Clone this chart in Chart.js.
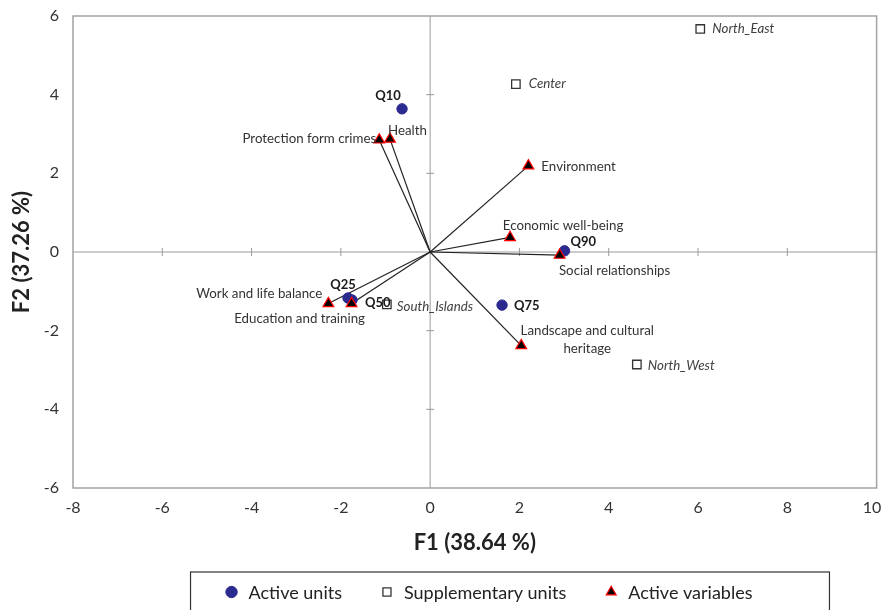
<!DOCTYPE html>
<html>
<head>
<meta charset="utf-8">
<script src="https://cdn.jsdelivr.net/npm/chart.js@4/dist/chart.umd.min.js"></script>
<style>
  html, body { margin: 0; padding: 0; background: #ffffff; }
  #wrap { width: 884px; height: 610px; }
</style>
</head>
<body>
<div id="wrap"><canvas id="c" width="884" height="610"></canvas></div>
<script>
// Active units (quantiles) on the first factorial plane
const unitNames = ['Q10', 'Q25', 'Q50', 'Q75', 'Q90'];
const unitF1 = [-0.63, -1.84, -1.75, 1.61, 3.01];
const unitF2 = [3.64, -1.17, -1.22, -1.35, 0.03];

// Supplementary units (macro-regions)
const suppNames = ['North_East', 'Center', 'South_Islands', 'North_West'];
const suppF1 = [6.05, 1.92, -0.97, 4.63];
const suppF2 = [5.67, 4.27, -1.33, -2.86];

// Active variables (drawn as vectors from the origin)
const varNames = ['Protection form crimes', 'Health', 'Environment', 'Economic well-being',
  'Social relationships', 'Landscape and cultural heritage', 'Work and life balance', 'Education and training'];
const varF1 = [-1.14, -0.90, 2.20, 1.79, 2.90, 2.04, -2.28, -1.76];
const varF2 = [2.85, 2.87, 2.19, 0.37, -0.08, -2.38, -1.31, -1.31];

// Axis ticks
const xTicks = [-8, -6, -4, -2, 0, 2, 4, 6, 8, 10];
const yTicks = [-6, -4, -2, 0, 2, 4, 6];

const FONT = 'Lato, "Open Sans", sans-serif';

// Where each text label sits relative to its mark
const labelPlacement = {
  'Q10': { dx: -14, dy: -13, align: 'center' },
  'Q25': { dx: -5, dy: -13, align: 'center' },
  'Q50': { dx: 13, dy: 3, align: 'left' },
  'Q75': { dx: 12, dy: 1, align: 'left' },
  'Q90': { dx: 6, dy: -9, align: 'left' },
  'North_East': { dx: 12, dy: 0, align: 'left' },
  'Center': { dx: 13, dy: 0, align: 'left' },
  'South_Islands': { dx: 10, dy: 2, align: 'left' },
  'North_West': { dx: 11, dy: 1, align: 'left' },
  'Protection form crimes': { dx: -3, dy: -1, align: 'right' },
  'Health': { dx: -2, dy: -8, align: 'left' },
  'Environment': { dx: 13, dy: 1, align: 'left' },
  'Economic well-being': { dx: 53, dy: -12, align: 'center' },
  'Social relationships': { dx: 55, dy: 16, align: 'center' },
  'Landscape and cultural heritage': { dx: 66, dy: -15, align: 'center', lines: ['Landscape and cultural', 'heritage'], lh: 18 },
  'Work and life balance': { dx: -6, dy: -10, align: 'right' },
  'Education and training': { dx: -52, dy: 15, align: 'center' }
};

// Legend row styling
const legendRow = { centerX: 488, centerY: 592, gap: 37, box: 16, textGap: 9, markerRadius: 5.7,
  padLeft: 33, padRight: 77, boxTop: 572, font: '18px ' + FONT, color: '#222222' };

const toPoints = (xs, ys) => xs.map((v, i) => ({ x: v, y: ys[i] }));

// One line per variable, from the origin to its coordinates
const vectorSets = varNames.map((n, i) => ({
  label: 'vec:' + n,
  type: 'line',
  data: [{ x: 0, y: 0 }, { x: varF1[i], y: varF2[i] }],
  showLine: true,
  borderColor: '#222222',
  borderWidth: 1.2,
  pointRadius: 0,
  fill: false,
  order: 5
}));

// Plot frame, zero axes and their tick marks
const framePlugin = {
  id: 'frame',
  beforeDatasetsDraw(chart) {
    const { ctx, chartArea: a } = chart;
    const xs = chart.scales.x, ys = chart.scales.y;
    const x0 = xs.getPixelForValue(0), y0 = ys.getPixelForValue(0);
    ctx.save();
    ctx.strokeStyle = '#9a9a9a';
    ctx.lineWidth = 1;
    ctx.beginPath();
    ctx.moveTo(a.left, y0); ctx.lineTo(a.right, y0);
    ctx.moveTo(x0, a.top); ctx.lineTo(x0, a.bottom);
    xTicks.forEach(v => {
      if (v === 0 || v === xs.min || v === xs.max) return;
      const px = xs.getPixelForValue(v);
      ctx.moveTo(px, y0 - 4); ctx.lineTo(px, y0 + 4);
    });
    yTicks.forEach(v => {
      if (v === 0 || v === ys.min || v === ys.max) return;
      const py = ys.getPixelForValue(v);
      ctx.moveTo(x0 - 4, py); ctx.lineTo(x0 + 4, py);
    });
    ctx.stroke();
    ctx.lineWidth = 1.5;
    ctx.strokeStyle = '#a3a3a3';
    ctx.strokeRect(a.left, a.top, a.right - a.left, a.bottom - a.top);
    ctx.restore();
  }
};

// Text labels beside the marks
const labelPlugin = {
  id: 'pointLabels',
  afterDatasetsDraw(chart) {
    const ctx = chart.ctx;
    const xs = chart.scales.x, ys = chart.scales.y;
    const groups = [
      { names: unitNames, xv: unitF1, yv: unitF2, font: 'bold 13px ' + FONT, color: '#1a1a1a' },
      { names: suppNames, xv: suppF1, yv: suppF2, font: 'italic 13.3px ' + FONT, color: '#404040' },
      { names: varNames, xv: varF1, yv: varF2, font: '13.3px ' + FONT, color: '#333333' }
    ];
    ctx.save();
    ctx.textBaseline = 'middle';
    groups.forEach(g => {
      ctx.font = g.font;
      ctx.fillStyle = g.color;
      g.names.forEach((n, i) => {
        const p = labelPlacement[n];
        const px = xs.getPixelForValue(g.xv[i]);
        const py = ys.getPixelForValue(g.yv[i]);
        ctx.textAlign = p.align;
        const lines = p.lines || [n];
        lines.forEach((t, k) => ctx.fillText(t, px + p.dx, py + p.dy + k * (p.lh || 0)));
      });
    });
    ctx.restore();
  }
};

// Legend row in a framed box, using each series' own marker style
const legendPlugin = {
  id: 'boxedLegend',
  afterDraw(chart) {
    const ctx = chart.ctx;
    const L = legendRow;
    const sets = chart.data.datasets.filter(ds => !ds.label.startsWith('vec:'));
    ctx.save();
    ctx.font = L.font;
    const widths = sets.map(ds => ctx.measureText(ds.label).width);
    const total = widths.reduce((s, w) => s + L.box + L.textGap + w, 0) + L.gap * (sets.length - 1);
    let x = L.centerX - total / 2;
    const startX = x;
    ctx.textBaseline = 'middle';
    ctx.textAlign = 'left';
    sets.forEach((ds, i) => {
      ctx.fillStyle = ds.backgroundColor;
      ctx.strokeStyle = ds.borderColor;
      ctx.lineWidth = ds.borderWidth;
      Chart.helpers.drawPoint(ctx, { pointStyle: ds.pointStyle, radius: L.markerRadius, borderWidth: ds.borderWidth },
        x + L.box / 2, L.centerY);
      ctx.fillStyle = L.color;
      ctx.fillText(ds.label, x + L.box + L.textGap, L.centerY + 1);
      x += L.box + L.textGap + widths[i] + L.gap;
    });
    const endX = x - L.gap;
    ctx.strokeStyle = '#333333';
    ctx.lineWidth = 1.2;
    ctx.strokeRect(startX - L.padLeft, L.boxTop, (endX - startX) + L.padLeft + L.padRight, 60);
    ctx.restore();
  }
};

const chart = new Chart(document.getElementById('c'), {
  type: 'scatter',
  data: {
    datasets: [
      {
        label: 'Active units',
        data: toPoints(unitF1, unitF2),
        pointStyle: 'circle',
        pointRadius: 5.2,
        backgroundColor: '#2b2a8f',
        borderColor: '#2b2a8f',
        borderWidth: 1,
        order: 1
      },
      {
        label: 'Supplementary units',
        data: toPoints(suppF1, suppF2),
        pointStyle: 'rect',
        pointRadius: 6,
        backgroundColor: '#ffffff',
        borderColor: '#333333',
        borderWidth: 1.3,
        order: 2
      },
      {
        label: 'Active variables',
        data: toPoints(varF1, varF2),
        pointStyle: 'triangle',
        pointRadius: 6.2,
        backgroundColor: '#000000',
        borderColor: '#ff0000',
        borderWidth: 1.2,
        order: 0
      },
      ...vectorSets
    ]
  },
  options: {
    responsive: false,
    animation: false,
    events: [],
    layout: { padding: { top: 16, right: 7, left: 0, bottom: 36 } },
    plugins: {
      tooltip: { enabled: false },
      legend: { display: false }
    },
    scales: {
      x: {
        type: 'linear',
        min: -8, max: 10,
        afterBuildTicks: s => { s.ticks = xTicks.map(v => ({ value: v })); },
        afterFit: s => { s.height = 86; s.paddingLeft = 0; s.paddingRight = 0; },
        grid: { display: false, drawTicks: false },
        border: { display: false },
        ticks: {
          padding: 10, color: '#333333', font: { family: FONT, size: 16 },
          // a figure space keeps the last label inside the canvas edge
          callback: v => (v === xTicks[xTicks.length - 1] ? v + '\u2007' : String(v))
        },
        title: {
          display: true,
          text: 'F1 (38.64 %)',
          color: '#222222',
          font: { family: FONT, size: 22, weight: 'bold' },
          padding: { top: 18, bottom: 18 }
        }
      },
      y: {
        type: 'linear',
        min: -6, max: 6,
        afterBuildTicks: s => { s.ticks = yTicks.map(v => ({ value: v })); },
        afterFit: s => { s.width = 73; s.paddingTop = 0; s.paddingBottom = 0; },
        grid: { display: false, drawTicks: false },
        border: { display: false },
        ticks: { padding: 14, color: '#333333', font: { family: FONT, size: 16 } },
        title: {
          display: true,
          text: 'F2 (37.26 %)',
          color: '#222222',
          font: { family: FONT, size: 22, weight: 'bold' },
          padding: { top: 9, bottom: 9 }
        }
      }
    }
  },
  plugins: [framePlugin, labelPlugin, legendPlugin]
});
</script>
</body>
</html>
